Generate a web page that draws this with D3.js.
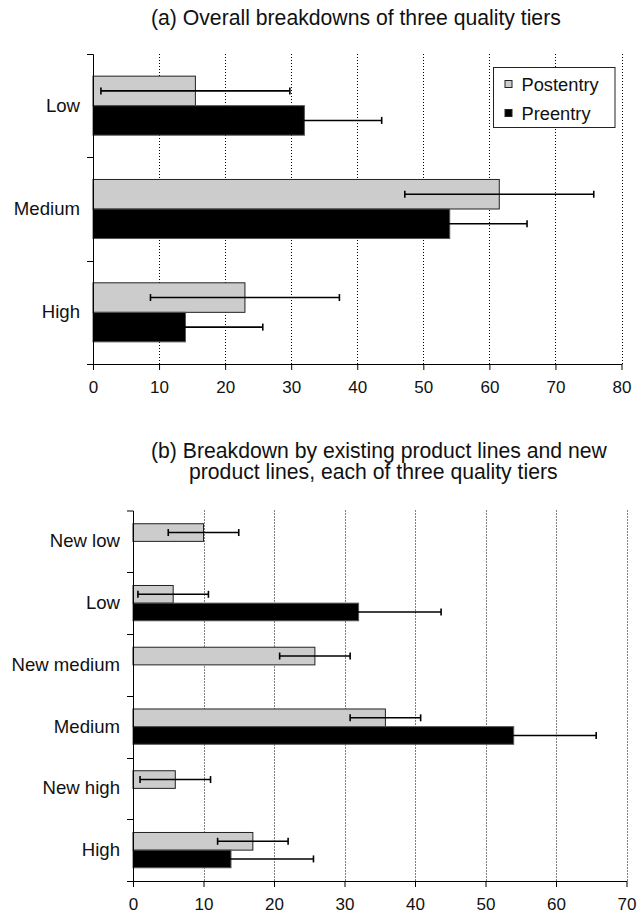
<!DOCTYPE html>
<html>
<head>
<meta charset="utf-8">
<script src="https://cdn.jsdelivr.net/npm/d3@7"></script>
<style>
  body { margin: 0; background: #fff; }
  text { font-family: "Liberation Sans", Arial, sans-serif; fill: #111; }
</style>
</head>
<body>
<svg id="chart" width="641" height="913"></svg>
<script>
const svgW = 641, svgH = 913;

// panel (a)
const tiersA = ["Low", "Medium", "High"];
const postA = [15.5, 61.5, 23];
const preA = [32, 54, 14];
const postErrA = [14.3, 14.3, 14.3];
const preErrA = [11.7, 11.7, 11.7];
const ticksA = [0, 10, 20, 30, 40, 50, 60, 70, 80];

// panel (b)
const tiersB = ["New low", "Low", "New medium", "Medium", "New high", "High"];
const postB = [10, 5.7, 25.8, 35.8, 6, 17];
const preB = [null, 32, null, 54, null, 13.9];
const postErrB = [5, 5, 5, 5, 5, 5];
const preErrB = [null, 11.7, null, 11.7, null, 11.7];
const ticksB = [0, 10, 20, 30, 40, 50, 60, 70];

const seriesNames = ["Postentry", "Preentry"];
const colors = { Postentry: "#cccccc", Preentry: "#000000" };

const svg = d3.select("#chart");

function drawPanel(opts) {
    const { cats, post, pre, postErr, preErr, ticks, left, right, top, bottom } = opts;
    const g = svg.append("g");

    const x = d3.scaleLinear()
        .domain([0, d3.max(ticks)])
        .range([left, right]);

    const y = d3.scaleBand()
        .domain(cats)
        .range([top, bottom])
        .padding(0);

    const ySub = d3.scaleBand()
        .domain(seriesNames)
        .range([0, y.bandwidth()])
        .paddingInner(0)
        .paddingOuter(0.75);

    // dotted grid
    g.append("g").selectAll("line")
        .data(ticks.filter(t => t > 0))
        .enter()
        .append("line")
        .attr("x1", d => Math.round(x(d)) + 0.5)
        .attr("x2", d => Math.round(x(d)) + 0.5)
        .attr("y1", top)
        .attr("y2", bottom)
        .attr("stroke", "#000")
        .attr("stroke-width", 1)
        .attr("stroke-dasharray", "1,2");

    const rows = cats.map((c, i) => ([
        { cat: c, s: "Postentry", v: post[i], e: postErr[i] },
        { cat: c, s: "Preentry", v: pre[i], e: preErr[i] }
    ])).flat().filter(d => d.v != null);

    // bars
    g.append("g").selectAll("rect")
        .data(rows)
        .enter()
        .append("rect")
        .attr("x", x(0))
        .attr("y", d => y(d.cat) + ySub(d.s))
        .attr("width", d => x(d.v) - x(0))
        .attr("height", ySub.bandwidth())
        .attr("fill", d => colors[d.s])
        .attr("stroke", d => d.s === "Postentry" ? "#222" : "#555")
        .attr("stroke-width", 1);

    // error bars
    const eb = g.append("g").selectAll("g")
        .data(rows)
        .enter()
        .append("g")
        .attr("stroke", "#000")
        .attr("stroke-width", 1.6);

    const cy = d => y(d.cat) + ySub(d.s) + ySub.bandwidth() / 2;
    eb.append("line")
        .attr("x1", d => x(d.v - d.e))
        .attr("x2", d => x(d.v + d.e))
        .attr("y1", cy)
        .attr("y2", cy);
    eb.append("line")
        .attr("x1", d => x(d.v - d.e))
        .attr("x2", d => x(d.v - d.e))
        .attr("y1", d => cy(d) - 3.5)
        .attr("y2", d => cy(d) + 3.5);
    eb.append("line")
        .attr("x1", d => x(d.v + d.e))
        .attr("x2", d => x(d.v + d.e))
        .attr("y1", d => cy(d) - 3.5)
        .attr("y2", d => cy(d) + 3.5);

    // x axis
    const xAxis = g.append("g")
        .attr("transform", `translate(0,${bottom})`)
        .call(d3.axisBottom(x).tickValues(ticks).tickSize(6).tickSizeOuter(0).tickPadding(11));
    xAxis.selectAll("text").style("font-size", "17px").attr("fill", "#111");
    xAxis.selectAll("line, path").attr("stroke", "#000");

    // y axis
    const yAxis = g.append("g")
        .attr("transform", `translate(${left},0)`)
        .call(d3.axisLeft(y).tickSize(0).tickSizeOuter(6).tickPadding(13));
    yAxis.selectAll("text").style("font-size", "18.6px").attr("fill", "#111");
    yAxis.select("path").attr("stroke", "#000");

    g.append("g").selectAll("line")
        .data(cats.slice(1))
        .enter()
        .append("line")
        .attr("x1", left - 6)
        .attr("x2", left)
        .attr("y1", d => Math.round(y(d)) + 0.5)
        .attr("y2", d => Math.round(y(d)) + 0.5)
        .attr("stroke", "#000");

    return { g, x, y };
}

drawPanel({
    cats: tiersA, post: postA, pre: preA, postErr: postErrA, preErr: preErrA,
    ticks: ticksA, left: 93, right: 621.5, top: 54, bottom: 364
});

drawPanel({
    cats: tiersB, post: postB, pre: preB, postErr: postErrB, preErr: preErrB,
    ticks: ticksB, left: 133, right: 626.5, top: 510.5, bottom: 881
});

// titles
svg.append("text")
    .attr("x", 151).attr("y", 24.5)
    .style("font-size", "21.2px")
    .text("(a) Overall breakdowns of three quality tiers");

svg.append("text")
    .attr("x", 151).attr("y", 458)
    .style("font-size", "21.2px")
    .text("(b) Breakdown by existing product lines and new");

svg.append("text")
    .attr("x", 189).attr("y", 478.5)
    .style("font-size", "21.2px")
    .text("product lines, each of three quality tiers");

// legend
const legend = svg.append("g").attr("transform", "translate(493.5,67.5)");
legend.append("rect")
    .attr("width", 121.5).attr("height", 60)
    .attr("fill", "#fff").attr("stroke", "#222");

const li = legend.selectAll("g.item")
    .data(seriesNames)
    .enter()
    .append("g")
    .attr("class", "item")
    .attr("transform", (d, i) => `translate(0,${16.5 + i * 29})`);
li.append("rect")
    .attr("x", 11.5).attr("y", -3.5)
    .attr("width", 7).attr("height", 7)
    .attr("fill", d => colors[d])
    .attr("stroke", "#222");
li.append("text")
    .attr("x", 28).attr("y", 6.5)
    .style("font-size", "18.3px")
    .text(d => d);
</script>
</body>
</html>
